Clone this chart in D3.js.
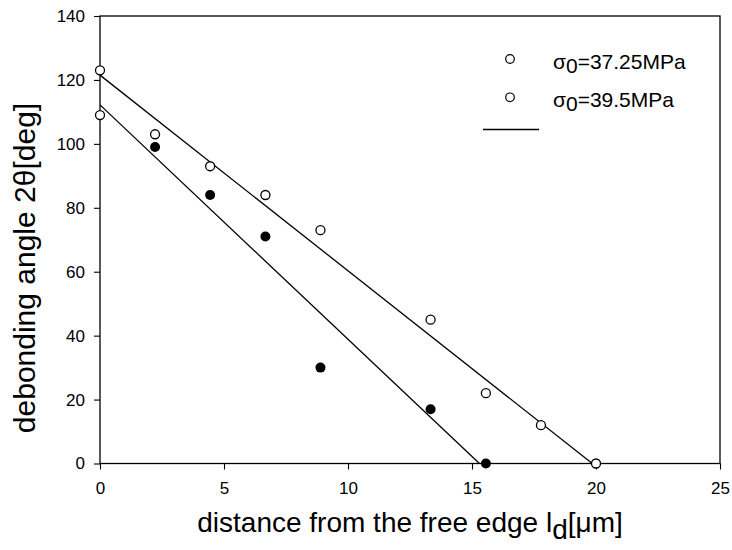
<!DOCTYPE html>
<html>
<head>
<meta charset="utf-8">
<script src="https://cdn.jsdelivr.net/npm/d3@7"></script>
<style>
  body { margin: 0; background: #fff; }
  svg { display: block; font-family: "Liberation Sans", Arial, sans-serif; }
</style>
</head>
<body>
<div id="chart"></div>
<script>
// sigma0 = 37.25 MPa (open circles)
const xA = [0, 2.22, 4.44, 6.67, 8.89, 13.33, 15.56, 17.78, 20];
const yA = [123, 103, 93, 84, 73, 45, 22, 12, 0];
// sigma0 = 39.5 MPa (filled circles, first one open)
const xB = [0, 2.22, 4.44, 6.67, 8.89, 13.33, 15.56];
const yB = [109, 99, 84, 71, 30, 17, 0];
// fitted lines, end points
const fitA = [[0, 121.5], [19.85, 0]];
const fitB = [[0, 112.2], [15.3, 0]];

const legendLabels = ["=37.25MPa", "=39.5MPa"];
const xTicks = [0, 5, 10, 15, 20, 25];
const yTicks = [0, 20, 40, 60, 80, 100, 120, 140];

const W = 732, H = 550;
const margin = {top: 16, right: 12, bottom: 86.5, left: 100};

const svg = d3.select("#chart").append("svg")
  .attr("width", W).attr("height", H);

const x = d3.scaleLinear().domain([0, 25]).range([margin.left, W - margin.right]);
const y = d3.scaleLinear().domain([0, 140]).range([H - margin.bottom, margin.top]);

// frame
svg.append("rect")
  .attr("x", x(0)).attr("y", y(140))
  .attr("width", x(25) - x(0)).attr("height", y(0) - y(140))
  .attr("fill", "none").attr("stroke", "#000").attr("stroke-width", 1.3);

const xAxis = svg.append("g")
  .attr("transform", `translate(0,${y(0)})`)
  .call(d3.axisBottom(x).tickValues(xTicks).tickSize(6).tickPadding(12).tickFormat(d3.format("d")));
const yAxis = svg.append("g")
  .attr("transform", `translate(${x(0)},0)`)
  .call(d3.axisLeft(y).tickValues(yTicks).tickSize(6).tickPadding(9).tickFormat(d3.format("d")));

[xAxis, yAxis].forEach(a => {
  a.select(".domain").remove();
  a.selectAll("line").attr("stroke", "#000").attr("stroke-width", 1.1);
  a.selectAll("text")
    .attr("fill", "#000")
    .style("font-size", "17px")
    .style("font-family", "Liberation Sans, Arial, sans-serif");
});

// fit lines
const line = d3.line().x(d => x(d[0])).y(d => y(d[1]));
[fitA, fitB].forEach(f => {
  svg.append("path").datum(f)
    .attr("d", line)
    .attr("fill", "none")
    .attr("stroke", "#000")
    .attr("stroke-width", 1.3);
});

// points
const ptsA = xA.map((v, i) => ({x: v, y: yA[i], open: true}));
const ptsB = xB.map((v, i) => ({x: v, y: yB[i], open: i === 0}));

svg.append("g").selectAll("circle")
  .data(ptsB.concat(ptsA))
  .join("circle")
  .attr("cx", d => x(d.x))
  .attr("cy", d => y(d.y))
  .attr("r", d => d.open ? 4.5 : 5)
  .attr("fill", d => d.open ? "#fff" : "#000")
  .attr("stroke", "#000")
  .attr("stroke-width", d => d.open ? 1.3 : 0);

// legend
const legend = svg.append("g");
legendLabels.forEach((lab, i) => {
  const cy = 59 + i * 38.3;
  legend.append("circle")
    .attr("cx", 510).attr("cy", cy).attr("r", 4.3)
    .attr("fill", "#fff").attr("stroke", "#000").attr("stroke-width", 1.2);
  const t = legend.append("text")
    .attr("x", 553).attr("y", cy + 9.5)
    .style("font-size", "21px")
    .attr("fill", "#000");
  t.append("tspan").text("σ");
  t.append("tspan").attr("dy", 4).text("0");
  t.append("tspan").attr("dy", -4).text(lab);
});
legend.append("line")
  .attr("x1", 483).attr("x2", 539)
  .attr("y1", 129.5).attr("y2", 129.5)
  .attr("stroke", "#000").attr("stroke-width", 1.3);

// axis titles
const xt = svg.append("text")
  .attr("x", (x(0) + x(25)) / 2)
  .attr("y", 532)
  .attr("text-anchor", "middle")
  .style("font-size", "28px")
  .attr("fill", "#000");
xt.append("tspan").text("distance from the free edge l");
xt.append("tspan").attr("dy", 7).text("d");
xt.append("tspan").attr("dy", -7).text("[μm]");

svg.append("text")
  .attr("transform", `translate(35,268) rotate(-90)`)
  .attr("text-anchor", "middle")
  .style("font-size", "30px")
  .attr("fill", "#000")
  .text("debonding angle 2θ[deg]");
</script>
</body>
</html>
